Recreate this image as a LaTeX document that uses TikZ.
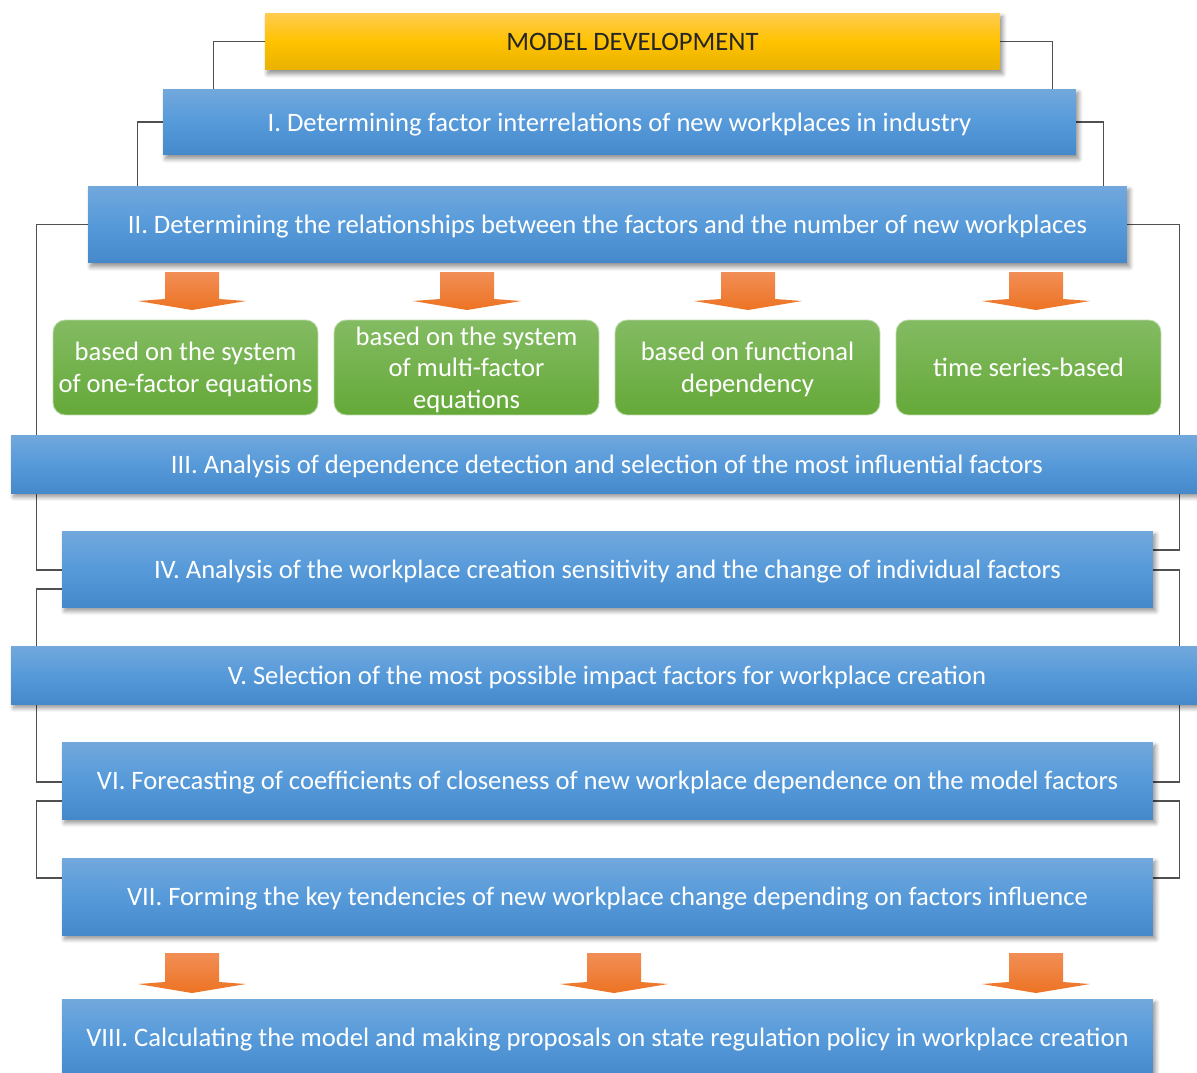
\documentclass[tikz,border=0pt]{standalone}
\usepackage{fontspec}
\setmainfont{Carlito}
\usetikzlibrary{shadows.blur,calc}
\pgfdeclarelayer{background}
\pgfsetlayers{background,main}
\definecolor{bluetop}{RGB}{114,168,220}
\definecolor{bluemid}{RGB}{86,154,218}
\definecolor{bluebot}{RGB}{70,137,203}
\definecolor{goldtop}{RGB}{255,204,80}
\definecolor{goldmid}{RGB}{255,194,0}
\definecolor{goldbot}{RGB}{232,178,0}
\definecolor{greentop}{RGB}{131,187,98}
\definecolor{greenbot}{RGB}{101,169,57}
\definecolor{ortop}{RGB}{241,142,86}
\definecolor{orbot}{RGB}{237,115,35}
\definecolor{linecol}{RGB}{80,80,80}
\tikzset{
  base/.style={rectangle, inner sep=0pt, align=center, text depth=0pt,
    font=\fontsize{15.15}{18}\selectfont,
    blur shadow={shadow xshift=1.5pt, shadow yshift=-2.2pt, shadow blur steps=8,
      shadow blur radius=2.5pt, shadow opacity=45}},
  bluebox/.style={base, top color=bluetop, bottom color=bluebot, middle color=bluemid, text=white},
  goldbox/.style={base, top color=goldtop, bottom color=goldbot, middle color=goldmid, text=black!85},
  greenbox/.style={rectangle, inner sep=0pt, align=center, text depth=0pt,
    font=\fontsize{15.15}{18}\selectfont, rounded corners=7pt,
    top color=greentop, bottom color=greenbot, text=white,
    draw=greentop!55!white, line width=0.5pt,
    minimum width=5.3cm, minimum height=1.9cm},
  conn/.style={draw=linecol, line width=0.6pt},
  orarrow/.style={top color=ortop, bottom color=orbot, draw=none}
}
\newcommand\blockarrow[3]{% center x, top y, tip y
  \shade[orarrow] (#1-27,#2) -- (#1+27,#2) -- (#1+27,#3-11) -- (#1+54,#3-9) -- (#1,#3) -- (#1-54,#3-9) -- (#1-27,#3-11) -- cycle;}
\begin{document}
\begin{tikzpicture}[x=0.02cm, y=-0.02cm]
\useasboundingbox (0,0) rectangle (1197,1072);

\node[goldbox, minimum width=14.7cm, minimum height=1.14cm] (md) at (632.5,41.5) {MODEL DEVELOPMENT};
\node[bluebox, minimum width=18.26cm, minimum height=1.32cm] (I) at (619.5,122) {I. Determining factor interrelations of new workplaces in industry};
\node[bluebox, minimum width=20.78cm, minimum height=1.54cm] (II) at (607.5,224.5) {II. Determining the relationships between the factors and the number of new workplaces};

\node[greenbox] (g1) at (185.5,367.5) {based on the system\\of one-factor equations};
\node[greenbox] (g2) at (466.5,367.5) {based on the system\\of multi-factor\\equations};
\node[greenbox] (g3) at (747.5,367.5) {based on functional\\dependency};
\node[greenbox] (g4) at (1028.5,367.5) {time series-based};

\node[bluebox, minimum width=23.84cm, minimum height=1.16cm] (III) at (607,464) {III. Analysis of dependence detection and selection of the most influential factors};
\node[bluebox, minimum width=21.82cm, minimum height=1.52cm] (IV) at (607.5,569) {IV. Analysis of the workplace creation sensitivity and the change of individual factors};
\node[bluebox, minimum width=23.84cm, minimum height=1.16cm] (V) at (607,675) {V. Selection of the most possible impact factors for workplace creation};
\node[bluebox, minimum width=21.82cm, minimum height=1.54cm] (VI) at (607.5,780.5) {VI. Forecasting of coefficients of closeness of new workplace dependence on the model factors};
\node[bluebox, minimum width=21.82cm, minimum height=1.54cm] (VII) at (607.5,896.5) {VII. Forming the key tendencies of new workplace change depending on factors influence};
\node[bluebox, minimum width=21.82cm, minimum height=1.54cm] (VIII) at (607.5,1037.5) {VIII. Calculating the model and making proposals on state regulation policy in workplace creation};

\blockarrow{192}{272}{310}
\blockarrow{467}{272}{310}
\blockarrow{748}{272}{310}
\blockarrow{1036}{272}{310}
\blockarrow{192}{953}{993}
\blockarrow{614}{953}{993}
\blockarrow{1036}{953}{993}

\begin{pgfonlayer}{background}
\draw[conn] (md.west) -| ($(I.north west)+(51,0)$);
\draw[conn] (md.east) -| ($(I.north east)+(-24,0)$);
\draw[conn] (I.west) -| ($(II.north west)+(50,0)$);
\draw[conn] (I.east) -| ($(II.north east)+(-24,0)$);
\draw[conn] (II.west) -- ++(-51,0) |- ($(IV.west)+(0,1)$);
\draw[conn] (II.east) -- ++(52,0) |- ($(IV.east)+(0,-19)$);
\draw[conn] ($(IV.west)+(0,20)$) -| ($(V.north west)+(26,0)$);
\draw[conn] ($(IV.east)+(0,1)$) -| ($(V.north east)+(-24,0)$);
\draw[conn] ($(V.south west)+(26,0)$) |- ($(VI.west)+(0,1.5)$);
\draw[conn] ($(V.south east)+(-24,0)$) |- ($(VI.east)+(0,1.5)$);
\draw[conn] ($(VI.west)+(0,20.5)$) -- ++(-25,0) |- ($(VII.west)+(0,-18.5)$);
\draw[conn] ($(VI.east)+(0,20.5)$) -- ++(26,0) |- ($(VII.east)+(0,-18.5)$);
\end{pgfonlayer}
\end{tikzpicture}
\end{document}
